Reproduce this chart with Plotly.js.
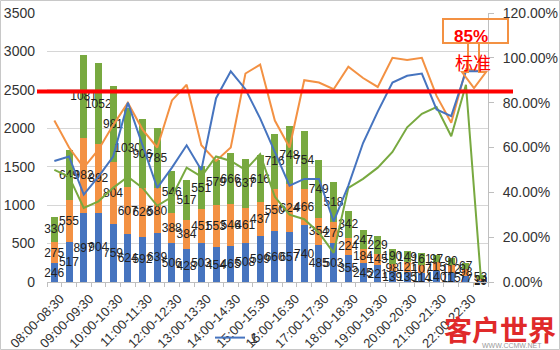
<!DOCTYPE html>
<html>
<head>
<meta charset="utf-8">
<script src="https://cdn.plot.ly/plotly-3.0.1.min.js"></script>
<style>html,body{margin:0;padding:0;background:#fff;}#chart{width:560px;height:350px;}</style>
</head>
<body>
<div id="chart"></div>
<script>
// ---- data ----
const categories = ['08:00-08:30','08:30-09:00','09:00-09:30','09:30-10:00','10:00-10:30','10:30-11:00',
  '11:00-11:30','11:30-12:00','12:00-12:30','12:30-13:00','13:00-13:30','13:30-14:00','14:00-14:30',
  '14:30-15:00','15:00-15:30','15:30-16:00','16:00-16:30','16:30-17:00','17:00-17:30','17:30-18:00',
  '18:00-18:30','18:30-19:00','19:00-19:30','19:30-20:00','20:00-20:30','20:30-21:00','21:00-21:30',
  '21:30-22:00','22:00-22:30','22:30-23:00'];
const tickLabels = ['08:00-08:30','','09:00-09:30','','10:00-10:30','','11:00-11:30','','12:00-12:30','',
  '13:00-13:30','','14:00-14:30','','15:00-15:30','','16:00-16:30','','17:00-17:30','','18:00-18:30','',
  '19:00-19:30','','20:00-20:30','','21:00-21:30','','22:00-22:30',''];
const barBlue   = [246,517,897,904,759,624,592,639,506,428,503,454,465,508,599,660,657,740,485,503,355,245,221,139,135,114,140,115,77,19];
const barOrange = [275,555,982,892,804,607,626,580,388,384,451,553,546,461,437,550,624,466,354,276,224,184,145,98,121,107,115,112,98,18];
const barGreen  = [330,649,1081,1052,981,1030,906,785,546,517,551,579,666,637,616,716,748,754,749,518,342,247,229,190,149,161,97,90,67,53];
const lineBlue   = [0.54,0.56,0.39,0.47,0.56,0.80,0.61,0.42,0.51,0.61,0.50,0.82,0.94,0.86,0.73,0.58,0.43,0.46,0.46,0.27,0.43,0.62,0.76,0.89,0.92,0.93,0.77,0.74,0.94,0.94];
const lineOrange = [0.72,0.60,0.51,0.59,0.70,0.80,0.68,0.60,0.81,0.88,0.61,0.54,0.60,0.93,0.97,0.72,0.60,0.90,0.89,0.86,0.96,0.91,0.87,1.00,0.99,1.00,0.83,0.71,0.95,0.94];
const lineGreen  = [0.50,0.47,0.33,0.36,0.42,0.47,0.42,0.34,0.38,0.51,0.47,0.56,0.54,0.50,0.57,0.38,0.30,0.28,0.22,0.13,0.42,0.46,0.51,0.58,0.69,0.75,0.78,0.65,0.88,0.03];
const standard = 0.85;

// ---- style ----
const C_BLUE = '#4674bf', C_ORANGE = '#f39143', C_GREEN = '#78a940';
const FONT = 'Liberation Sans, Arial, sans-serif';
// plot area in pixels: left 47, right 488, top 13, bottom 282
const PL = 47, PR = 488, PT = 13, PB = 282;
const px = X => (X - PL) / (PR - PL);
const py = Y => (PB - Y) / (PB - PT);

function barTrace(vals, color, name) {
  return {
    type: 'bar', x: categories, y: vals, name: name, marker: {color: color},
    text: vals.map(String), textposition: 'inside', insidetextanchor: 'middle',
    constraintext: 'none', textangle: 0, cliponaxis: false,
    textfont: {family: FONT, size: 12, color: '#222'},
    insidetextfont: {family: FONT, size: 12, color: '#222'},
    showlegend: false, hoverinfo: 'skip'
  };
}
function lineTrace(vals, color, name, legend) {
  return {
    type: 'scatter', mode: 'lines', x: categories, y: vals, yaxis: 'y2', name: name,
    line: {color: color, width: 2}, showlegend: legend, hoverinfo: 'skip'
  };
}

const data = [
  barTrace(barBlue, C_BLUE, '1'),
  barTrace(barOrange, C_ORANGE, '2'),
  barTrace(barGreen, C_GREEN, '3'),
  lineTrace(lineOrange, C_ORANGE, '2', false),
  lineTrace(lineGreen, C_GREEN, '3', false),
  lineTrace(lineBlue, C_BLUE, '1', true)
];

const layout = {
  width: 560, height: 350,
  margin: {l: PL, r: 560 - PR, t: PT, b: 350 - PB, autoexpand: false},
  paper_bgcolor: '#fff', plot_bgcolor: '#fff',
  barmode: 'stack', bargap: 0.52,
  font: {family: FONT, size: 13, color: '#333'},
  xaxis: {
    type: 'category', tickmode: 'array', tickvals: categories, ticktext: tickLabels,
    tickson: 'boundaries', ticks: 'outside', ticklen: 4, tickcolor: '#bfbfbf',
    tickangle: -45, tickfont: {size: 13, color: '#333'}, automargin: false,
    ticklabelshift: 6, ticklabelstandoff: 3,
    showline: true, linecolor: '#bfbfbf', linewidth: 1, showgrid: false, zeroline: false
  },
  yaxis: {
    range: [0, 3500], dtick: 500, tick0: 0, showgrid: true, gridcolor: '#d6d6d6', gridwidth: 1,
    zeroline: false, showline: false, ticks: '', ticklabelstandoff: 11, automargin: false,
    tickfont: {size: 14, color: '#333'}
  },
  yaxis2: {
    overlaying: 'y', side: 'right', range: [0, 1.2], dtick: 0.2, tick0: 0, tickformat: '.2%',
    showgrid: false, zeroline: false, showline: true, linecolor: '#bfbfbf', linewidth: 1,
    ticks: 'outside', ticklen: 5, tickcolor: '#bfbfbf', ticklabelstandoff: 6, automargin: false,
    tickfont: {size: 14, color: '#333'}
  },
  showlegend: true,
  legend: {x: px(210), y: py(322), xanchor: 'left', yanchor: 'top', bgcolor: 'rgba(0,0,0,0)',
           font: {size: 14, color: '#333'}, itemwidth: 30},
  shapes: [
    // 85% standard line
    {type: 'line', xref: 'paper', yref: 'y2', x0: px(37), x1: px(513), y0: standard, y1: standard,
     line: {color: '#ff0000', width: 4}, layer: 'above'},
    // callout box
    {type: 'rect', xref: 'paper', yref: 'paper', x0: px(443), x1: px(508), y0: py(43), y1: py(19),
     line: {color: '#f39143', width: 2}, fillcolor: 'rgba(0,0,0,0)', layer: 'above'},
    // callout arrow
    {type: 'path', xref: 'paper', yref: 'paper',
     path: 'M ' + px(468) + ',' + py(43) + ' L ' + px(468) + ',' + py(72) + ' L ' + px(462) + ',' + py(72) +
           ' L ' + px(474) + ',' + py(88) + ' L ' + px(486) + ',' + py(72) + ' L ' + px(479) + ',' + py(72) +
           ' L ' + px(479) + ',' + py(43),
     line: {color: '#f39143', width: 2}, fillcolor: 'rgba(0,0,0,0)', layer: 'above'},
    // chart border
    {type: 'rect', xref: 'paper', yref: 'paper', x0: px(0.5), x1: px(559.5), y0: py(349.5), y1: py(0.5),
     line: {color: '#c8c8c8', width: 1}, fillcolor: 'rgba(0,0,0,0)', layer: 'below'}
  ],
  annotations: [
    {xref: 'paper', yref: 'paper', x: px(471), y: py(37), text: '<b>85%</b>', showarrow: false,
     font: {family: FONT, size: 17, color: '#ff0000'}, xanchor: 'center', yanchor: 'middle'},
    {xref: 'paper', yref: 'paper', x: px(473), y: py(62), text: '标准', showarrow: false,
     font: {family: 'Noto Sans CJK SC', size: 18, color: '#ff0000'}, xanchor: 'center', yanchor: 'middle'},
    {xref: 'paper', yref: 'paper', x: px(500), y: py(329), text: '<b>客户世界</b>', showarrow: false,
     font: {family: 'Noto Sans CJK SC', size: 28, color: '#e02a2a'}, xanchor: 'center', yanchor: 'middle'},
    {xref: 'paper', yref: 'paper', x: px(512), y: py(345), text: 'WWW.CCMW.NET', showarrow: false,
     font: {family: FONT, size: 7, color: '#999'}, xanchor: 'center', yanchor: 'middle'}
  ]
};

Plotly.newPlot('chart', data, layout, {staticPlot: true, displayModeBar: false});
</script>
</body>
</html>
